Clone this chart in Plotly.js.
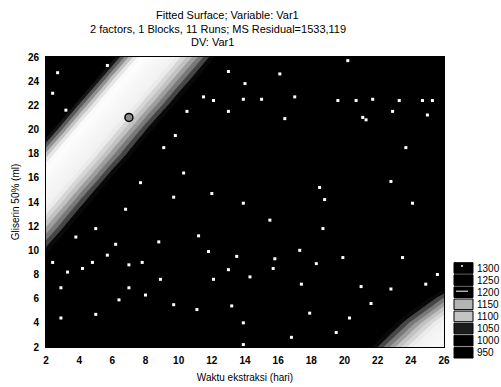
<!DOCTYPE html>
<html><head><meta charset="utf-8">
<script src="https://cdn.plot.ly/plotly-3.0.1.min.js"></script>
<style>html,body{margin:0;padding:0;background:#fff;}#chart{width:501px;height:387px;}</style>
</head><body><div id="chart"></div>
<script>
// Grid of the fitted surface (read/estimated from the picture)
const xVals = [2,4,6,8,10,12,14,16,18,20,22,24,26];
const yVals = [2,4,6,8,10,12,14,16,18,20,22,24,26];
const zRows = [
  [1288,1311,1328,1337,1340,1336,1325,1306,1280,1240,1195,1150,1105], // y=2
  [1269,1297,1318,1332,1339,1340,1333,1319,1297,1265,1225,1185,1140], // y=4
  [1249,1281,1306,1324,1336,1340,1338,1329,1312,1287,1255,1222,1185], // y=6
  [1225,1261,1291,1313,1329,1338,1340,1335,1323,1303,1276,1248,1232], // y=8
  [1199,1240,1273,1300,1320,1333,1340,1339,1332,1317,1294,1264,1250], // y=10
  [1170,1215,1253,1284,1308,1326,1337,1340,1337,1327,1309,1284,1258], // y=12
  [1139,1188,1230,1265,1294,1316,1331,1339,1340,1334,1321,1300,1272], // y=14
  [1105,1158,1205,1244,1277,1303,1322,1335,1340,1339,1330,1314,1291], // y=16
  [1069,1126,1176,1220,1257,1288,1311,1328,1337,1340,1336,1325,1306], // y=18
  [1029,1091,1146,1194,1235,1269,1297,1318,1332,1339,1340,1333,1319], // y=20
  [ 987,1053,1112,1164,1210,1249,1281,1306,1324,1336,1340,1338,1329], // y=22
  [ 943,1013,1076,1133,1182,1225,1261,1291,1313,1329,1338,1340,1335], // y=24
  [ 895, 970,1037,1098,1152,1199,1240,1273,1300,1320,1333,1340,1339]  // y=26
];
// Design point marker
const pointX = [7];
const pointY = [21];
// Pattern dots visible in the dark fill
const dotX = [2.7,2.4,3.2,5.7,13.0,14.0,13.9,12.1,11.5,13.0,10.5,9.8,9.1,10.3,7.7,16.1,20.2,15.0,17.0,19.6,20.7,21.7,23.3,24.7,25.3,16.4,21.1,21.3,22.9,25.0,23.7,22.8,18.5,18.8,9.7,12.0,13.9,24.1,15.5,8.8,11.2,11.8,13.5,15.8,17.3,18.3,7.8,8.9,12.1,13.0,14.3,15.7,17.4,8.0,9.7,11.1,13.2,17.9,6.8,5.0,3.8,6.2,2.4,5.7,4.8,4.2,3.3,7.0,2.9,7.0,6.4,2.9,5.0,13.9,13.9,16.8,19.5,20.3,21.6,18.7,19.9,23.5,21.0,22.8,24.9,25.6];
const dotY = [24.7,23.0,21.6,25.3,24.8,23.8,22.5,22.4,22.7,21.5,21.5,19.5,18.5,16.4,15.6,24.6,25.7,22.5,22.7,22.4,22.4,22.5,22.4,22.4,22.4,20.9,21.0,20.8,21.5,21.2,18.5,15.7,15.2,14.2,14.4,14.7,13.9,13.9,12.5,10.7,11.2,9.9,9.5,9.3,10.0,8.9,9.0,7.6,7.6,8.4,7.8,8.5,7.2,6.3,5.5,5.1,5.4,4.8,13.4,11.8,11.1,10.5,9.0,9.6,9.0,8.5,8.2,8.8,6.9,6.9,5.9,4.4,4.7,4.0,2.2,2.8,3.2,4.4,5.6,11.8,9.4,9.4,7.0,6.8,7.2,8.0];
// Tick labels
const tickVals = [2,4,6,8,10,12,14,16,18,20,22,24,26];
const tickText = ['2','4','6','8','10','12','14','16','18','20','22','24','26'];
// Legend levels
const legendLabels = ['1300','1250','1200','1150','1100','1050','1000','950'];
const legendFills  = ['#000','#000','#000','#b4b4b4','#c4c4c4','#1c1c1c','#000','#000'];

const titleLines = ['Fitted Surface; Variable: Var1','2 factors, 1 Blocks, 11 Runs; MS Residual=1533,119','DV: Var1'];

const FONT = 'Liberation Sans, Arial, sans-serif';
const L = 46, R = 444, T = 57, B = 347;
const px = v => (v - L) / (R - L);
const py = v => (B - v) / (B - T);

const traces = [
  {
    type: 'contour', x: xVals, y: yVals, z: zRows,
    zauto: false, zmin: 880, zmax: 1345, showscale: false, hoverinfo: 'skip',
    autocontour: false,
    contours: {start: 875, end: 1355, size: 8, coloring: 'fill', showlines: false},
    line: {width: 0, smoothing: 0},
    colorscale: [[0,'#000'],[0.355,'#000'],[0.38,'#666'],[0.42,'#dcdcdc'],[0.45,'#fff'],
                 [0.58,'#f0f0f0'],[0.62,'#c0c0c0'],[0.66,'#6a6a6a'],[0.69,'#000'],[1,'#000']]
  },
  {
    type: 'scatter', mode: 'markers', x: dotX, y: dotY, hoverinfo: 'skip',
    marker: {size: 3, color: '#fff', symbol: 'square'}, showlegend: false
  },
  {
    type: 'scatter', mode: 'markers', x: pointX, y: pointY, showlegend: false,
    marker: {size: 8, color: '#8a8a8a', line: {color: '#000', width: 1.5}}
  }
];

const shapes = [];
const annotations = [];
legendLabels.forEach((lab, i) => {
  const cy = 268 + 12.1 * i;
  shapes.push({type: 'rect', xref: 'paper', yref: 'paper', x0: px(454), x1: px(473),
    y0: py(cy + 5.3), y1: py(cy - 5.3), fillcolor: legendFills[i], line: {color: '#000', width: 1}});
  annotations.push({xref: 'paper', yref: 'paper', x: px(475), y: py(cy), xanchor: 'left', yanchor: 'middle',
    text: lab, showarrow: false, font: {family: FONT, size: 10, color: '#000'}});
});
shapes.push({type: 'line', xref: 'paper', yref: 'paper', x0: px(456), x1: px(468), y0: py(268 + 12.1*2 - 1), y1: py(268 + 12.1*2 - 1), line: {color: '#fff', width: 1}});
shapes.push({type: 'circle', xref: 'paper', yref: 'paper', x0: px(461), x1: px(463), y0: py(267), y1: py(265), fillcolor: '#fff', line: {width: 0}});

const titleCenters = [227, 218, 212];
const titleY = [15, 28.5, 41.5];
titleLines.forEach((t, i) => {
  annotations.push({xref: 'paper', yref: 'paper', x: px(titleCenters[i]), y: py(titleY[i]), xanchor: 'center', yanchor: 'middle',
    text: t, showarrow: false, font: {family: FONT, size: 11, color: '#000'}});
});

const layout = {
  width: 501, height: 387,
  margin: {l: L, r: 501 - R, t: T, b: 387 - B, pad: 0},
  paper_bgcolor: '#fff', plot_bgcolor: '#000',
  showlegend: false,
  font: {family: FONT, size: 10, color: '#000'},
  xaxis: {
    range: [2, 26], tickvals: tickVals, ticktext: tickText, showgrid: false, zeroline: false,
    ticks: 'outside', ticklen: 4, tickcolor: 'rgba(0,0,0,0)', showline: true, linecolor: '#000', linewidth: 1, mirror: true,
    tickfont: {family: FONT, size: 10, color: '#000', weight: 'bold'},
    title: {text: 'Waktu ekstraksi (hari)', font: {family: FONT, size: 10, color: '#000'}, standoff: 8}
  },
  yaxis: {
    range: [2, 26], tickvals: tickVals, ticktext: tickText, showgrid: false, zeroline: false,
    ticks: 'outside', ticklen: 4, tickcolor: 'rgba(0,0,0,0)', showline: true, linecolor: '#000', linewidth: 1, mirror: true,
    tickfont: {family: FONT, size: 10, color: '#000', weight: 'bold'},
    title: {text: 'Gliserin 50% (ml)', font: {family: FONT, size: 10, color: '#000'}, standoff: 6}
  },
  shapes: shapes,
  annotations: annotations
};

Plotly.newPlot('chart', traces, layout, {displayModeBar: false, staticPlot: true});
</script>
</body></html>
